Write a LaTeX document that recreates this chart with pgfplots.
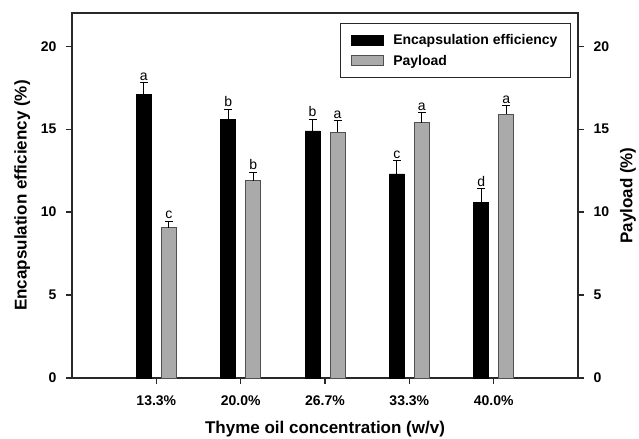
\documentclass[border=0pt]{standalone}
\usepackage{fontspec}
\setmainfont{Liberation Sans}
\usepackage{pgfplots}
\pgfplotsset{compat=1.18}
\usepackage{pgfplotstable}
\definecolor{bargray}{RGB}{170,170,170}
\definecolor{edgegray}{RGB}{80,80,80}
\definecolor{axgray}{RGB}{40,40,40}

\pgfplotstableread{
x ee eeerr eel pl plerr pll
1 17.1 0.7 a 9.05 0.4 c
2 15.6 0.6 b 11.9 0.5 b
3 14.9 0.7 b 14.8 0.7 a
4 12.3 0.8 c 15.4 0.6 a
5 10.6 0.8 d 15.9 0.5 a
}\data

\newcommand{\tfont}{\bfseries\fontsize{14bp}{16bp}\selectfont}
\newcommand{\lfont}{\bfseries\fontsize{17bp}{20bp}\selectfont}

\begin{document}
\begin{tikzpicture}
\pgfplotsset{
  common/.style={
    scale only axis, width=506bp, height=365bp,
    xmin=0, xmax=6, ymin=0, ymax=22,
    ytick={0,5,10,15,20},
    tick align=outside,
    major tick length=6bp,
    axis line style={axgray, line width=1.2bp},
    every tick/.style={axgray, line width=1.2bp},
    /pgf/number format/assume math mode=true,
    ticklabel style={font=\tfont},
    label style={font=\lfont},
  }
}
\begin{axis}[common, name=ax,
  ybar, bar width=15bp,
  xtick={1,2,3,4,5},
  xticklabels={13.3\%,20.0\%,26.7\%,33.3\%,40.0\%},
  xtick pos=bottom, ytick pos=left,
  xticklabel style={yshift=-8bp},
  yticklabel style={xshift=-6bp},
  xlabel={Thyme oil concentration (w/v)},
  ylabel={Encapsulation efficiency (\%)},
  xlabel style={yshift=-9bp},
  ylabel style={yshift=4bp},
  legend style={at={(0.986,0.973)}, anchor=north east, draw=axgray, line width=1bp,
    font=\tfont, inner xsep=11bp, inner ysep=9bp, row sep=5bp,
    nodes={inner xsep=2bp, inner ysep=2bp},
    /tikz/every odd column/.append style={column sep=7bp},
    legend cell align=left},
  legend image code/.code={\draw[#1] (0bp,-5bp) rectangle (32bp,5bp);},
  error bars/y dir=plus, error bars/y explicit,
  error bars/error bar style={black, line width=1bp},
  error bars/error mark options={black, line width=1bp, mark size=4bp, rotate=90},
]
\addplot[fill=black, draw=black, bar shift=-12.5bp] table[x=x, y=ee, y error=eeerr] {\data};
\addlegendentry{Encapsulation efficiency}
\addplot[fill=bargray, draw=edgegray, line width=0.8bp, bar shift=12.5bp] table[x=x, y=pl, y error=plerr] {\data};
\addlegendentry{Payload}
\addplot[draw=none, fill=none, bar shift=-12.5bp, forget plot,
  nodes near coords, point meta=explicit symbolic,
  every node near coord/.append style={font=\fontsize{14bp}{16bp}\selectfont, anchor=south, inner sep=2bp}]
  table[x=x, y expr=\thisrow{ee}+\thisrow{eeerr}, meta=eel] {\data};
\addplot[draw=none, fill=none, bar shift=12.5bp, forget plot,
  nodes near coords, point meta=explicit symbolic,
  every node near coord/.append style={font=\fontsize{14bp}{16bp}\selectfont, anchor=south, inner sep=2bp}]
  table[x=x, y expr=\thisrow{pl}+\thisrow{plerr}, meta=pll] {\data};
\end{axis}
\begin{axis}[common,
  axis x line=none, axis y line*=right,
  yticklabel style={xshift=6bp},
  ylabel={Payload (\%)},
  ylabel style={yshift=-4bp},
]
\addplot[draw=none] coordinates {(1,0)};
\end{axis}
\pgfresetboundingbox
\path[use as bounding box] ([shift={(-72bp,-60bp)}]ax.south west) rectangle ([shift={(61bp,13bp)}]ax.north east);
\end{tikzpicture}
\end{document}
